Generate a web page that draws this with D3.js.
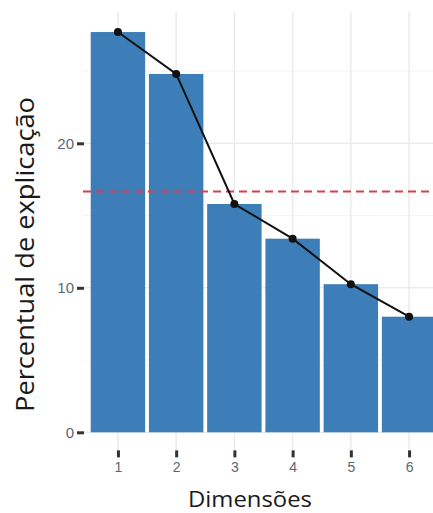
<!DOCTYPE html>
<html>
<head>
<meta charset="utf-8">
<script src="https://cdn.jsdelivr.net/npm/d3@7"></script>
<style>
  body { margin: 0; background: #fff; }
  #chart { width: 433px; height: 513px; overflow: hidden; }
</style>
</head>
<body>
<div id="chart"></div>
<script>
const width = 433;
const height = 513;

// dati
const dimensions = [1, 2, 3, 4, 5, 6];
const explained = [27.7, 24.8, 15.8, 13.4, 10.25, 8.0];
const yTicks = [0, 10, 20];
const yMinorTicks = [5, 15, 25];
const cutoff = 100 / 6; // linea tratteggiata

const svg = d3.select('#chart').append('svg')
    .attr('width', width)
    .attr('height', height);

// scale (il pannello esce a destra come nel ritaglio originale)
const x = d3.scaleLinear().domain([0.4, 6.6]).range([83, 444]);
const y = d3.scaleLinear().domain([0, 20]).range([432.3, 143.3]);
const step = x(2) - x(1);
const barW = step * 0.935;

const panelTop = y(29.1);
const panelBottom = y(-1.25);

// griglia
svg.append('g').selectAll('line.minor')
    .data(yMinorTicks)
    .join('line')
    .attr('x1', x(0.4)).attr('x2', x(6.6))
    .attr('y1', d => y(d)).attr('y2', d => y(d))
    .attr('stroke', '#f3f4f6')
    .attr('stroke-width', 1);

svg.append('g').selectAll('line.major')
    .data(yTicks)
    .join('line')
    .attr('x1', x(0.4)).attr('x2', x(6.6))
    .attr('y1', d => y(d)).attr('y2', d => y(d))
    .attr('stroke', '#e9ebee')
    .attr('stroke-width', 1.5);

svg.append('g').selectAll('line')
    .data(dimensions)
    .join('line')
    .attr('x1', d => x(d)).attr('x2', d => x(d))
    .attr('y1', panelTop).attr('y2', panelBottom)
    .attr('stroke', '#e9ebee')
    .attr('stroke-width', 1.5);

// barre
svg.append('g').selectAll('rect')
    .data(dimensions)
    .join('rect')
    .attr('x', d => x(d) - barW / 2)
    .attr('y', (d, i) => y(explained[i]))
    .attr('width', barW)
    .attr('height', (d, i) => y(0) - y(explained[i]))
    .attr('fill', '#3e7eb8');

// linea rossa tratteggiata
svg.append('line')
    .attr('x1', x(0.4)).attr('x2', width)
    .attr('y1', y(cutoff)).attr('y2', y(cutoff))
    .attr('stroke', '#d8404a')
    .attr('stroke-width', 2)
    .attr('stroke-dasharray', '8,5');

// linea e punti
const line = d3.line()
    .x((d, i) => x(dimensions[i]))
    .y(d => y(d));

svg.append('path')
    .datum(explained)
    .attr('d', line)
    .attr('fill', 'none')
    .attr('stroke', '#111')
    .attr('stroke-width', 2);

svg.append('g').selectAll('circle')
    .data(explained)
    .join('circle')
    .attr('cx', (d, i) => x(dimensions[i]))
    .attr('cy', d => y(d))
    .attr('r', 4)
    .attr('fill', '#111');

// assi
const yAxis = d3.axisLeft(y).tickValues(yTicks).tickSize(7).tickPadding(3);
const gy = svg.append('g')
    .attr('transform', `translate(${x(0.4) + 1},0)`)
    .call(yAxis);
gy.select('.domain').remove();
gy.selectAll('.tick line').attr('stroke', '#333').attr('stroke-width', 3);
gy.selectAll('.tick text')
    .attr('fill', '#5d6670')
    .style('font-family', 'Liberation Sans, Arial, sans-serif')
    .style('font-size', '15px');

const xAxis = d3.axisBottom(x).tickValues(dimensions).tickFormat(d3.format('d')).tickSize(7).tickPadding(5);
const gx = svg.append('g')
    .attr('transform', `translate(0,${panelBottom})`)
    .call(xAxis);
gx.select('.domain').remove();
gx.selectAll('.tick line').attr('stroke', '#333').attr('stroke-width', 3);
gx.selectAll('.tick text')
    .attr('fill', '#5d6670')
    .style('font-family', 'Liberation Sans, Arial, sans-serif')
    .style('font-size', '14px');

// titoli
svg.append('text')
    .attr('transform', `translate(34,${254.5}) rotate(-90)`)
    .attr('text-anchor', 'middle')
    .attr('fill', '#1a1a1a')
    .attr('textLength', 315)
    .attr('lengthAdjust', 'spacingAndGlyphs')
    .style('font-family', 'Open Sans, sans-serif')
    .style('font-size', '25px')
    .text('Percentual de explicação');

svg.append('text')
    .attr('x', 250)
    .attr('y', 507)
    .attr('text-anchor', 'middle')
    .attr('fill', '#1a1a1a')
    .attr('textLength', 124)
    .attr('lengthAdjust', 'spacingAndGlyphs')
    .style('font-family', 'Open Sans, sans-serif')
    .style('font-size', '22px')
    .text('Dimensões');
</script>
</body>
</html>
